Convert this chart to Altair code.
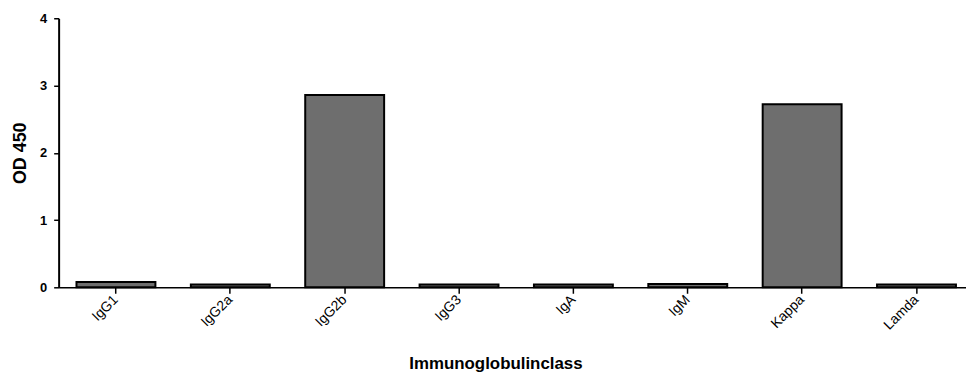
import altair as alt
import pandas as pd

classes = ["IgG1", "IgG2a", "IgG2b", "IgG3", "IgA", "IgM", "Kappa", "Lamda"]
od450 = [0.08, 0.04, 2.86, 0.04, 0.04, 0.05, 2.72, 0.04]

df = pd.DataFrame({"cls": classes, "od": od450})

font = "Liberation Sans"

chart = alt.Chart(df).mark_bar(
    fill="#6e6e6e", stroke="black", strokeWidth=2
).encode(
    x=alt.X("cls:N", sort=classes, title="Immunoglobulinclass",
            scale=alt.Scale(paddingInner=0.31, paddingOuter=0.122, align=0.64),
            axis=alt.Axis(labelAngle=-45, labelFontSize=14, labelFont=font,
                          labelColor="black", labelAlign="right", labelBaseline="middle",
                          labelPadding=4, grid=False,
                          titleFont=font, titleFontSize=17, titleFontWeight="bold",
                          titleColor="black", titlePadding=24, titleX=440,
                          domainColor="black", domainWidth=1.5,
                          tickColor="black", tickWidth=1.5, tickSize=6)),
    y=alt.Y("od:Q", title="OD 450",
            scale=alt.Scale(domain=[0, 4], nice=False),
            axis=alt.Axis(values=[0, 1, 2, 3, 4], format="d", grid=False,
                          labelFontSize=13, labelFont=font, labelColor="black",
                          labelFontWeight="bold", labelPadding=7,
                          titleFont=font, titleFontSize=18, titleFontWeight="bold",
                          titleColor="black", titlePadding=10,
                          domainColor="black", domainWidth=2,
                          tickColor="black", tickWidth=1.5, tickSize=5)),
).properties(
    width=914, height=271, background="white",
    padding={"left": 3, "top": 3, "right": 0, "bottom": 0},
).configure_view(strokeWidth=0)

chart.save("out.html", embed_options={"renderer": "svg", "actions": False})
